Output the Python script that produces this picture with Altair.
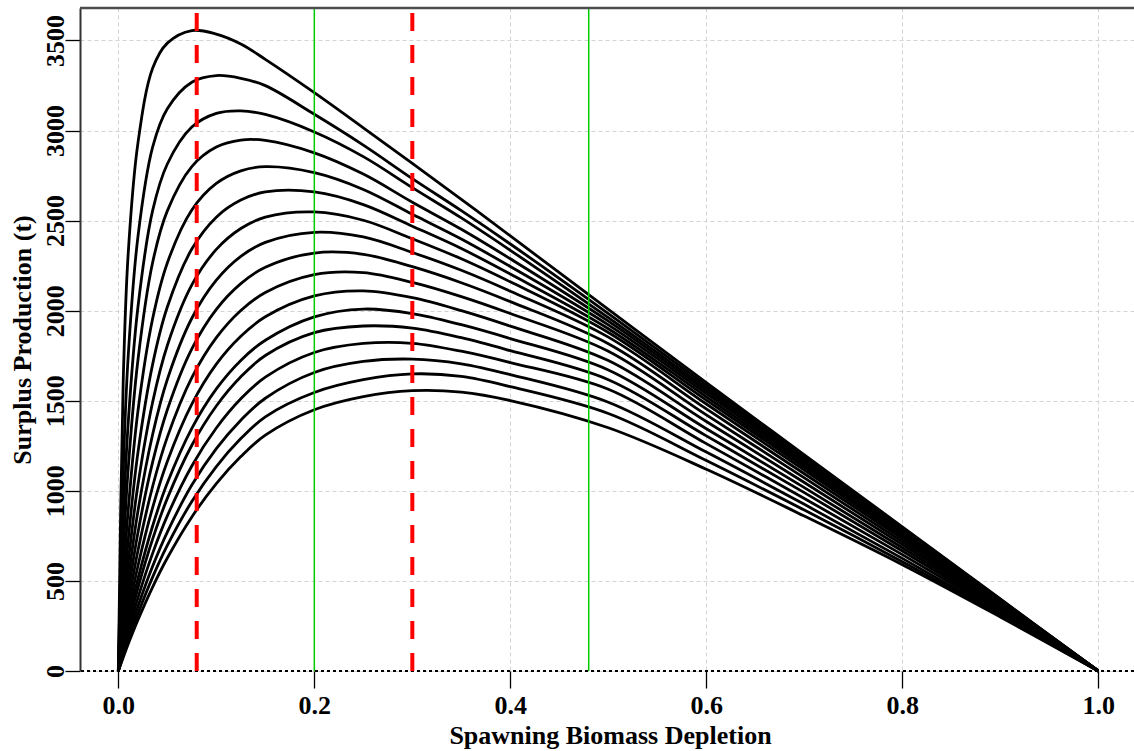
import altair as alt
import pandas as pd

# Spawning biomass depletion at which each production curve is tabulated
depletion = [0.0, 0.005, 0.01, 0.02, 0.035, 0.05, 0.075, 0.1, 0.125, 0.15,
             0.2, 0.25, 0.3, 0.35, 0.4, 0.5, 0.6, 0.7, 0.8, 0.9, 1.0]

# Surplus production (t), one list per curve, highest peak first
curve_01 = [0, 1610, 2310, 2930, 3345, 3485, 3555, 3535, 3480, 3395, 3210, 3015, 2818, 2618, 2415, 2007, 1600, 1200, 800, 400, 0]
curve_02 = [0, 1112, 1740, 2410, 2908, 3121, 3268, 3305, 3290, 3249, 3090, 2919, 2733, 2555, 2370, 1984, 1585, 1190, 794, 397, 0]
curve_03 = [0, 830, 1370, 2019, 2555, 2814, 3019, 3095, 3109, 3089, 2992, 2855, 2683, 2515, 2335, 1961, 1570, 1180, 788, 394, 0]
curve_04 = [0, 654, 1117, 1725, 2267, 2554, 2800, 2908, 2947, 2945, 2876, 2758, 2602, 2452, 2288, 1942, 1555, 1168, 780, 390, 0]
curve_05 = [0, 502, 889, 1442, 1955, 2265, 2559, 2706, 2776, 2799, 2766, 2673, 2535, 2398, 2245, 1921, 1540, 1156, 772, 386, 0]
curve_06 = [0, 398, 721, 1212, 1702, 2020, 2342, 2519, 2614, 2659, 2659, 2589, 2469, 2345, 2203, 1900, 1522, 1143, 764, 382, 0]
curve_07 = [0, 324, 598, 1032, 1492, 1807, 2143, 2340, 2456, 2519, 2548, 2502, 2399, 2288, 2160, 1879, 1503, 1130, 755, 378, 0]
curve_08 = [0, 270, 503, 887, 1313, 1618, 1958, 2169, 2301, 2379, 2435, 2409, 2323, 2224, 2108, 1853, 1482, 1115, 745, 373, 0]
curve_09 = [0, 227, 428, 768, 1159, 1450, 1788, 2007, 2150, 2241, 2320, 2313, 2244, 2155, 2050, 1817, 1455, 1095, 733, 367, 0]
curve_10 = [0, 193, 367, 667, 1024, 1298, 1628, 1850, 2001, 2101, 2200, 2211, 2157, 2078, 1984, 1775, 1422, 1072, 718, 360, 0]
curve_11 = [0, 166, 317, 583, 907, 1163, 1481, 1703, 1858, 1966, 2082, 2110, 2072, 2000, 1914, 1723, 1385, 1046, 702, 352, 0]
curve_12 = [0, 143, 275, 511, 805, 1043, 1347, 1566, 1724, 1836, 1966, 2009, 1984, 1922, 1845, 1671, 1345, 1018, 684, 344, 0]
curve_13 = [0, 128, 246, 460, 732, 958, 1253, 1471, 1633, 1751, 1878, 1915, 1903, 1850, 1778, 1617, 1305, 990, 666, 335, 0]
curve_14 = [0, 111, 215, 406, 653, 861, 1138, 1349, 1511, 1631, 1768, 1818, 1819, 1775, 1712, 1564, 1262, 958, 646, 326, 0]
curve_15 = [0, 97, 189, 358, 581, 771, 1032, 1234, 1392, 1514, 1657, 1718, 1731, 1705, 1645, 1492, 1215, 925, 625, 316, 0]
curve_16 = [0, 85, 167, 318, 521, 697, 941, 1135, 1290, 1411, 1546, 1617, 1649, 1635, 1578, 1429, 1168, 893, 606, 307, 0]
curve_17 = [0, 75, 148, 283, 466, 627, 855, 1040, 1190, 1309, 1450, 1523, 1556, 1548, 1501, 1350, 1120, 860, 590, 300, 0]

curves = [curve_01, curve_02, curve_03, curve_04, curve_05, curve_06, curve_07,
          curve_08, curve_09, curve_10, curve_11, curve_12, curve_13, curve_14,
          curve_15, curve_16, curve_17]

# Reference depletion levels
red_lines = [0.08, 0.30]
green_lines = [0.20, 0.48]

x_ticks = [0.0, 0.2, 0.4, 0.6, 0.8, 1.0]
y_ticks = [0, 500, 1000, 1500, 2000, 2500, 3000, 3500]

rows = []
for i, values in enumerate(curves, start=1):
    for d, p in zip(depletion, values):
        rows.append({"curve": i, "depletion": d, "production": p})
df = pd.DataFrame(rows)

FONT = "Liberation Serif"
x_scale = alt.Scale(domain=[-0.0391, 1.0364], nice=False, zero=False)
y_scale = alt.Scale(domain=[0, 3680], nice=False, zero=False)

x_axis = alt.Axis(
    values=x_ticks, format=".1f", title="Spawning Biomass Depletion",
    grid=True, gridColor="#d3d3d3", gridDash=[4, 3], gridWidth=1,
    domain=False, tickSize=17, tickColor="black", tickWidth=1.3,
    labelPadding=4, labelBaseline="top", labelFlush=False, labelOverlap=False,
    titleX=530, titleY=72, titleAlign="center", titleBaseline="alphabetic",
)
y_axis = alt.Axis(
    values=y_ticks, format="d", title="Surplus Production (t)",
    grid=True, gridColor="#d3d3d3", gridDash=[4, 3], gridWidth=1,
    domain=True, domainColor="#333333", domainWidth=2,
    tickSize=15, tickColor="black", tickWidth=1.3,
    labelAngle=270, labelAlign="center", labelBaseline="alphabetic",
    labelPadding=2, labelFlush=False, labelOverlap=False,
    titleAngle=270, titleX=-58, titleY=331.5, titleAlign="center",
    titleBaseline="middle",
)

lines = alt.Chart(df).mark_line(
    interpolate="catmull-rom", color="black", strokeWidth=2.8, strokeJoin="round"
).encode(
    x=alt.X("depletion:Q", scale=x_scale, axis=x_axis),
    y=alt.Y("production:Q", scale=y_scale, axis=y_axis),
    detail="curve:N",
)

zero_line = alt.Chart(pd.DataFrame({"production": [0]})).mark_rule(
    color="black", strokeDash=[3, 3], strokeWidth=1.8
).encode(y="production:Q")

top_line = alt.Chart(pd.DataFrame({"production": [3680]})).mark_rule(
    color="#4d4d4d", strokeWidth=2.5
).encode(y="production:Q")

green = alt.Chart(pd.DataFrame({"depletion": green_lines})).mark_rule(
    color="#00cd00", strokeWidth=1.5
).encode(x="depletion:Q")

red = alt.Chart(pd.DataFrame({"depletion": red_lines})).mark_rule(
    color="#ff0000", strokeWidth=4, strokeDash=[18, 14], strokeDashOffset=27
).encode(x="depletion:Q")

chart = alt.layer(lines, zero_line, green, red, top_line).properties(
    width=1054, height=663,
    padding={"left": 80, "top": 8, "right": 0, "bottom": 80},
    autosize=alt.AutoSizeParams(type="none"),
    background="white",
).configure_view(stroke=None).configure_axis(
    labelFont=FONT, titleFont=FONT, labelFontSize=26, titleFontSize=26,
    labelFontWeight="bold", titleFontWeight="bold",
    labelColor="black", titleColor="black",
)

chart.save("out.html", embed_options={"renderer": "svg", "actions": False})
